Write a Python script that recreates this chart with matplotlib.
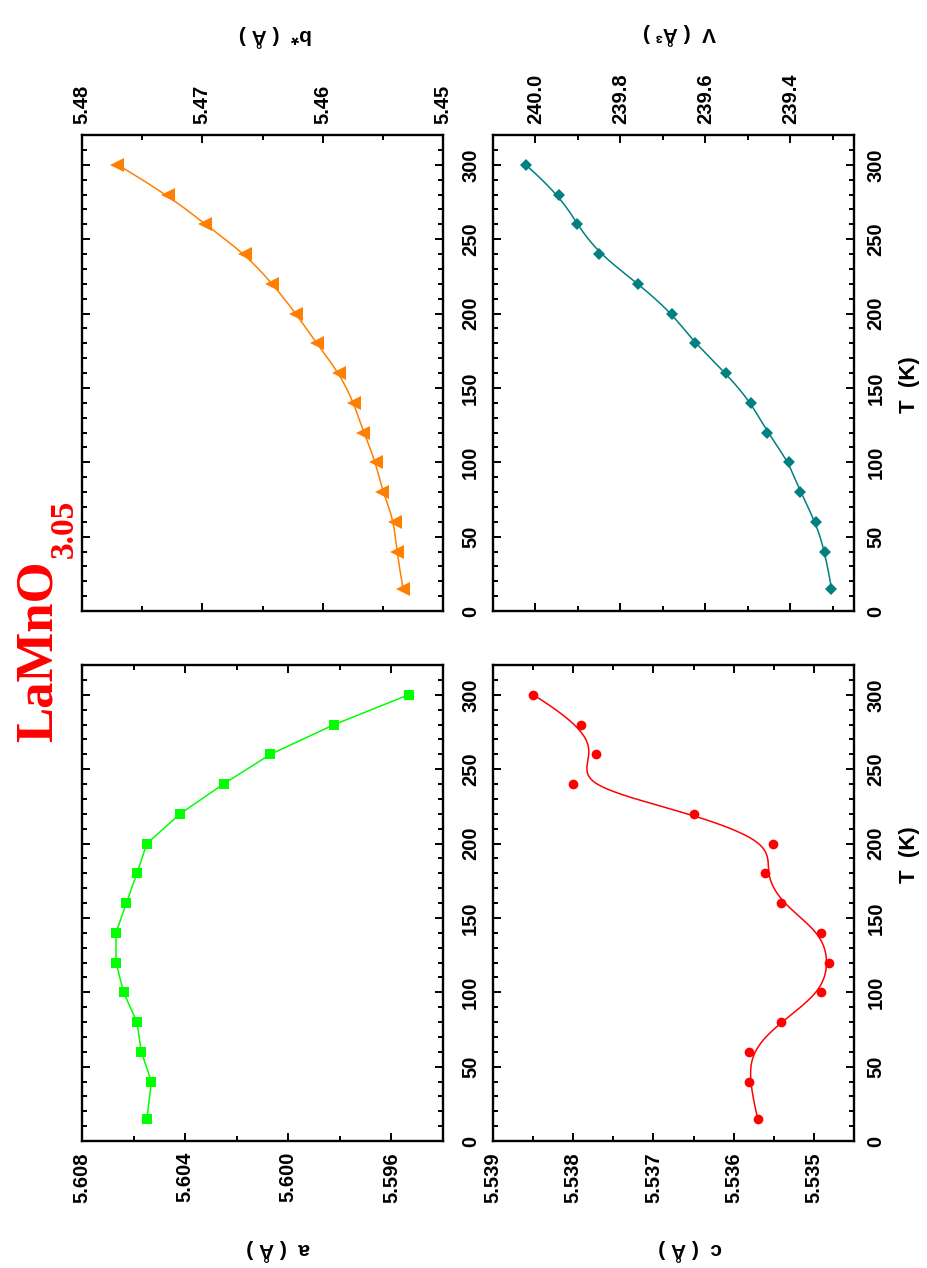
import numpy as np
import matplotlib
matplotlib.use("Agg")
import matplotlib.pyplot as plt
from matplotlib.ticker import MultipleLocator, FormatStrFormatter

# Lattice parameters of LaMnO3.05 versus temperature
temperature = [15, 40, 60, 80, 100, 120, 140, 160, 180, 200, 220, 240, 260, 280, 300]
a_param = [5.60548, 5.60531, 5.60570, 5.60587, 5.60639, 5.60668, 5.60668, 5.60628,
           5.60587, 5.60548, 5.60419, 5.60251, 5.60069, 5.59821, 5.59533]
b_star = [5.45332, 5.45386, 5.45399, 5.45503, 5.45557, 5.45661, 5.45740, 5.45864,
          5.46051, 5.46222, 5.46417, 5.46645, 5.46978, 5.47289, 5.47705]
c_param = [5.53570, 5.53581, 5.53581, 5.53541, 5.53491, 5.53481, 5.53491, 5.53541,
           5.53561, 5.53551, 5.53650, 5.53800, 5.53771, 5.53790, 5.53850]
volume = [239.303, 239.318, 239.340, 239.377, 239.403, 239.454, 239.492, 239.552,
          239.625, 239.678, 239.758, 239.850, 239.903, 239.944, 240.023]

a_ticks = [5.608, 5.604, 5.600, 5.596]
b_ticks = [5.48, 5.47, 5.46, 5.45]
c_ticks = [5.539, 5.538, 5.537, 5.536, 5.535]
v_ticks = [240.0, 239.8, 239.6, 239.4]
t_ticks = [0, 50, 100, 150, 200, 250, 300]

W, H = 927, 1268
FONT = "Liberation Sans"


def clamped_bspline(px, py, num=500, k=3):
    """Cubic B-spline using the data points as control points (clamped ends)."""
    P = np.column_stack([px, py]).astype(float)
    n = len(P)
    knots = np.concatenate([np.zeros(k + 1), np.arange(1, n - k),
                            np.full(k + 1, n - k)]).astype(float)
    u = np.linspace(0, n - k, num)
    u[-1] -= 1e-9
    N = np.zeros((num, len(knots) - 1))
    for j in range(len(knots) - 1):
        N[:, j] = (knots[j] <= u) & (u < knots[j + 1])
    for d in range(1, k + 1):
        Nn = np.zeros((num, len(knots) - 1 - d))
        for j in range(len(knots) - 1 - d):
            val = np.zeros(num)
            den1 = knots[j + d] - knots[j]
            if den1 > 0:
                val += (u - knots[j]) / den1 * N[:, j]
            den2 = knots[j + d + 1] - knots[j + 1]
            if den2 > 0:
                val += (knots[j + d + 1] - u) / den2 * N[:, j + 1]
            Nn[:, j] = val
        N = Nn
    curve = N @ P
    return curve[:, 0], curve[:, 1]


def px_box(x0, y0, x1, y1):
    return [x0 / W, 1 - y1 / H, (x1 - x0) / W, (y1 - y0) / H]


def style_axes(ax, vlim, vticks, vminor, vfmt, labels_top, t_pad):
    ax.set_xlim(*vlim)
    ax.set_ylim(0, 320)
    ax.set_xticks(vticks)
    ax.xaxis.set_minor_locator(MultipleLocator(vminor))
    ax.xaxis.set_major_formatter(FormatStrFormatter(vfmt))
    ax.set_yticks(t_ticks)
    ax.yaxis.set_minor_locator(MultipleLocator(10))
    for sp in ax.spines.values():
        sp.set_linewidth(1.7)
    ax.tick_params(which="both", direction="in", top=True, bottom=True,
                   left=True, right=True, width=1.4)
    ax.tick_params(which="major", length=6)
    ax.tick_params(which="minor", length=3.5)
    ax.tick_params(axis="x", labeltop=labels_top, labelbottom=not labels_top,
                   pad=8, labelrotation=90)
    ax.tick_params(axis="y", labelleft=False, labelright=True, pad=t_pad,
                   labelrotation=90)
    for lab in ax.get_xticklabels() + ax.get_yticklabels():
        lab.set_fontfamily(FONT)
        lab.set_fontweight("bold")
        lab.set_fontsize(14.5)
    for lab in ax.get_yticklabels():
        lab.set_verticalalignment("center")


fig = plt.figure(figsize=(W / 100, H / 100), dpi=100)

ax_a = fig.add_axes(px_box(82, 665, 443, 1141))
ax_b = fig.add_axes(px_box(82, 135, 443, 611))
ax_c = fig.add_axes(px_box(493, 665, 854, 1141))
ax_v = fig.add_axes(px_box(493, 135, 854, 611))

# a: straight segments
ax_a.plot(a_param, temperature, color="#00ff00", lw=1.1, marker="s", ms=7.5,
          markeredgewidth=0)

# b*: smooth B-spline curve
bx, bt = clamped_bspline(b_star, temperature)
ax_b.plot(bx, bt, color="#ff8000", lw=1.1)
ax_b.plot(b_star, temperature, ls="none", color="#ff8000", marker="<", ms=10,
          markeredgewidth=0)

# c: smooth B-spline curve
cx, ct = clamped_bspline(c_param, temperature)
ax_c.plot(cx, ct, color="#ff0000", lw=1.1)
ax_c.plot(c_param, temperature, ls="none", color="#ff0000", marker="o", ms=7,
          markeredgewidth=0)

# V: smooth B-spline curve
vx, vt = clamped_bspline(volume, temperature)
ax_v.plot(vx, vt, color="#008080", lw=1.1)
ax_v.plot(volume, temperature, ls="none", color="#008080", marker="D", ms=6.4,
          markeredgewidth=0)

style_axes(ax_a, (5.608, 5.594), a_ticks, 0.002, "%.3f", False, 13)
style_axes(ax_b, (5.48, 5.45), b_ticks, 0.005, "%.2f", True, 13)
style_axes(ax_c, (5.539, 5.5345), c_ticks, 0.0005, "%.3f", False, 9)
style_axes(ax_v, (240.1, 239.25), v_ticks, 0.1, "%.1f", True, 9)


def ftext(x, y, s, **kw):
    fig.text(x / W, 1 - y / H, s, **kw)


lab_kw = dict(fontfamily=FONT, fontweight="bold", fontsize=15, rotation=180,
              ha="center", va="center")
ftext(278, 1250, "a  ( Å )", **lab_kw)
ftext(690, 1250, "c  ( Å )", **lab_kw)
ftext(275, 36, "b*  ( Å )", **lab_kw)
ftext(680, 34, "V  ( Å³ )", **lab_kw)

t_kw = dict(fontfamily=FONT, fontweight="bold", fontsize=16, rotation=90,
            ha="center", va="center")
ftext(910, 385, "T  (K)", **t_kw)
ftext(910, 855, "T  (K)", **t_kw)

title_kw = dict(fontfamily="Liberation Serif", fontweight="bold", color="#ff0000",
                rotation=90, rotation_mode="anchor", ha="left", va="baseline")
ftext(52, 742, "LaMnO", fontsize=38, **title_kw)
ftext(73, 558, "3.05", fontsize=24, **title_kw)

fig.savefig("out.png", dpi=100)
